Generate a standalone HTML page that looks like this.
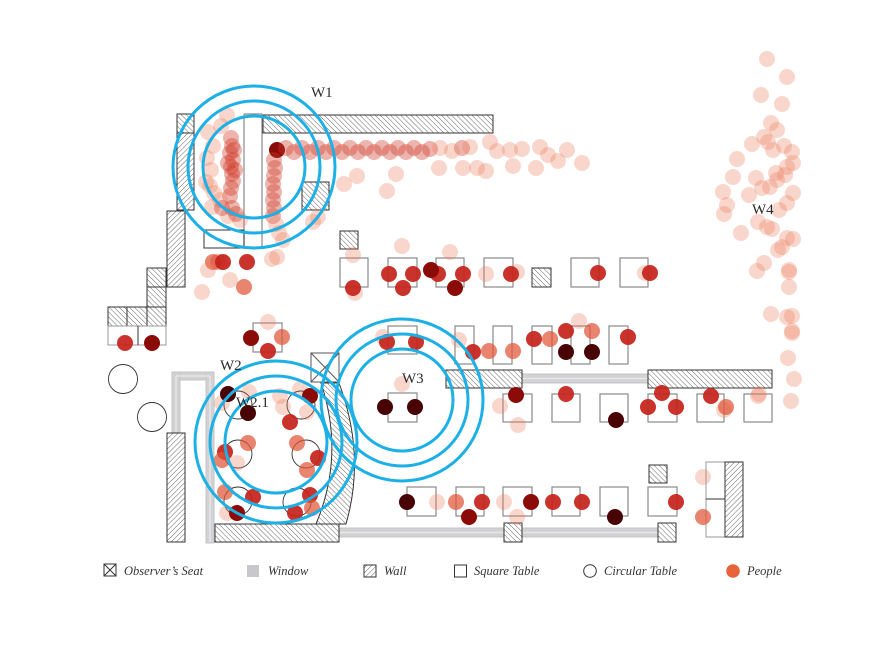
<!DOCTYPE html>
<html><head><meta charset="utf-8"><style>
html,body{margin:0;padding:0;background:#fff;}
svg{display:block;}
.t{fill:none;stroke:#8a8a8a;stroke-width:1.2}
.w1{fill:url(#hb);stroke:#333;stroke-width:1}
.w2{fill:url(#hf);stroke:#333;stroke-width:1}
.win{fill:#d2d2d4;stroke:#c4c4c6;stroke-width:1}
.p1{fill:#ec7656;fill-opacity:.3}
.p2{fill:#e15438;fill-opacity:.72}
.p3{fill:#c4221a;fill-opacity:.92}
.p4{fill:#8a0b08}
.p5{fill:#480404}
.pa{fill:#d03a28;fill-opacity:.38}
.b{fill:none;stroke:#1cb0e6;stroke-width:3}
.lab{font-family:"Liberation Serif",serif;font-size:15px;fill:#2a2a2a}
.leg{font-family:"Liberation Serif",serif;font-style:italic;font-size:12.5px;fill:#333}
</style></head><body>
<svg width="880" height="660" viewBox="0 0 880 660" xmlns="http://www.w3.org/2000/svg">
<defs>
<pattern id="hb" patternUnits="userSpaceOnUse" width="3.6" height="3.6" patternTransform="rotate(-45)"><rect width="3.6" height="3.6" fill="#fff"/><line x1="0" y1="0" x2="0" y2="3.6" stroke="#444" stroke-width="0.8"/></pattern>
<pattern id="hf" patternUnits="userSpaceOnUse" width="3.6" height="3.6" patternTransform="rotate(45)"><rect width="3.6" height="3.6" fill="#fff"/><line x1="0" y1="0" x2="0" y2="3.6" stroke="#444" stroke-width="0.8"/></pattern>
</defs>

<!-- windows -->
<rect class="win" x="172" y="372" width="42" height="8"/>
<rect class="win" x="172" y="372" width="8" height="62"/>
<rect class="win" x="206" y="372" width="8" height="171"/>
<rect class="win" x="339" y="528" width="320" height="9"/>
<rect class="win" x="522" y="374" width="126" height="9"/>
<line x1="176" y1="376" x2="210" y2="376" stroke="#e6e6e6" stroke-width="1.5"/>
<line x1="176" y1="376" x2="176" y2="432" stroke="#e6e6e6" stroke-width="1.5"/>
<line x1="210" y1="376" x2="210" y2="542" stroke="#e6e6e6" stroke-width="1.5"/>
<line x1="339" y1="532.5" x2="659" y2="532.5" stroke="#e6e6e6" stroke-width="1.5"/>
<line x1="522" y1="378.5" x2="648" y2="378.5" stroke="#e6e6e6" stroke-width="1.5"/>

<!-- W1 structure -->
<line x1="244" y1="114" x2="244" y2="247" stroke="#888" stroke-width="1.2"/>
<line x1="262" y1="114" x2="262" y2="247" stroke="#888" stroke-width="1.2"/>
<line x1="244" y1="114" x2="262" y2="114" stroke="#888" stroke-width="1.2"/>
<rect x="204" y="230" width="40" height="18" fill="none" stroke="#333" stroke-width="1"/>
<rect class="w1" x="177" y="114" width="17" height="19"/>
<rect class="w2" x="177" y="133" width="17" height="77"/>
<rect class="w2" x="167" y="211" width="18" height="76"/>
<rect class="w1" x="263" y="115" width="230" height="18"/>
<rect class="w1" x="302" y="182" width="27" height="28"/>
<rect class="w1" x="340" y="231" width="18" height="18"/>

<!-- left column -->
<rect class="w1" x="147" y="268" width="19" height="19"/>
<rect class="w1" x="147" y="287" width="19" height="20"/>
<rect class="w1" x="108" y="307" width="19" height="19"/>
<rect class="w1" x="127" y="307" width="20" height="19"/>
<rect class="w1" x="147" y="307" width="19" height="19"/>
<rect x="108" y="326" width="58" height="19" fill="none" stroke="#999" stroke-width="1"/>
<line x1="138" y1="326" x2="138" y2="345" stroke="#333" stroke-width="1"/>
<circle cx="123" cy="379" r="14.5" fill="none" stroke="#333" stroke-width="0.9"/>
<circle cx="152" cy="417" r="14.5" fill="none" stroke="#333" stroke-width="0.9"/>
<rect class="w2" x="167" y="433" width="18" height="109"/>
<rect class="w1" x="215" y="524" width="124" height="18"/>

<!-- observer seat + curved wall -->
<rect x="311" y="353" width="28" height="29" fill="#fff" stroke="#555" stroke-width="1"/>
<line x1="311" y1="353" x2="339" y2="382" stroke="#555" stroke-width="1"/>
<line x1="339" y1="353" x2="311" y2="382" stroke="#555" stroke-width="1"/>
<path class="w1" d="M321,383 Q345,455 316,524 L346,524 Q366,455 339,383 Z"/>

<!-- circular tables W2 -->
<g fill="none" stroke="#333" stroke-width="0.9">
<circle cx="238" cy="405" r="14"/><circle cx="301" cy="405" r="14"/>
<circle cx="238" cy="454" r="14"/><circle cx="306" cy="454" r="14"/>
<circle cx="238" cy="501" r="14"/><circle cx="297" cy="502" r="14"/>
</g>

<!-- square tables -->
<rect class="t" x="340" y="258" width="28" height="29"/>
<rect class="t" x="388" y="258" width="29" height="29"/>
<rect class="t" x="436" y="258" width="28" height="29"/>
<rect class="t" x="484" y="258" width="29" height="29"/>
<rect class="w1" x="532" y="268" width="19" height="19"/>
<rect class="t" x="571" y="258" width="28" height="29"/>
<rect class="t" x="620" y="258" width="28" height="29"/>
<rect class="t" x="253" y="323" width="29" height="29"/>
<rect class="t" x="388" y="326" width="29" height="28"/>
<rect class="t" x="455" y="326" width="19" height="38"/>
<rect class="t" x="493" y="326" width="19" height="38"/>
<rect class="t" x="532" y="326" width="20" height="38"/>
<rect class="t" x="571" y="326" width="19" height="38"/>
<rect class="t" x="609" y="326" width="19" height="38"/>
<rect class="w1" x="446" y="370" width="76" height="18"/>
<rect class="w1" x="648" y="370" width="124" height="18"/>
<rect class="t" x="388" y="393" width="29" height="29"/>
<rect class="t" x="503" y="394" width="29" height="28"/>
<rect class="t" x="552" y="394" width="28" height="28"/>
<rect class="t" x="600" y="394" width="28" height="28"/>
<rect class="t" x="648" y="394" width="29" height="28"/>
<rect class="t" x="697" y="394" width="27" height="28"/>
<rect class="t" x="744" y="394" width="28" height="28"/>
<rect class="t" x="407" y="487" width="29" height="29"/>
<rect class="t" x="456" y="487" width="28" height="29"/>
<rect class="t" x="503" y="487" width="29" height="29"/>
<rect class="t" x="552" y="487" width="28" height="29"/>
<rect class="t" x="600" y="487" width="28" height="29"/>
<rect class="t" x="648" y="487" width="29" height="29"/>
<rect class="w1" x="649" y="465" width="18" height="18"/>
<rect class="w1" x="504" y="523" width="18" height="19"/>
<rect class="w1" x="658" y="523" width="18" height="19"/>
<rect x="706" y="462" width="19" height="75" fill="none" stroke="#999" stroke-width="1"/>
<line x1="706" y1="499" x2="725" y2="499" stroke="#333" stroke-width="1"/>
<rect class="w2" x="725" y="462" width="18" height="75"/>

<!-- people -->
<g>
<!-- W1 column -->
<circle class="pa" cx="231" cy="138" r="8"/><circle class="pa" cx="232" cy="146" r="8"/><circle class="pa" cx="230" cy="153" r="8"/>
<circle class="pa" cx="233" cy="160" r="8"/><circle class="pa" cx="231" cy="167" r="8"/><circle class="pa" cx="232" cy="174" r="8"/>
<circle class="pa" cx="233" cy="181" r="8"/><circle class="pa" cx="231" cy="188" r="8"/><circle class="pa" cx="230" cy="196" r="8"/>
<circle class="pa" cx="234" cy="150" r="8"/><circle class="pa" cx="228" cy="163" r="8"/><circle class="pa" cx="235" cy="170" r="8"/>
<circle class="p1" cx="208" cy="132" r="8"/><circle class="p1" cx="213" cy="146" r="8"/><circle class="p1" cx="207" cy="158" r="8"/>
<circle class="p1" cx="211" cy="170" r="8"/><circle class="p1" cx="206" cy="182" r="8"/><circle class="p1" cx="214" cy="193" r="8"/>
<circle class="p1" cx="220" cy="200" r="8"/><circle class="p1" cx="212" cy="207" r="8"/><circle class="p1" cx="228" cy="216" r="8"/>
<circle class="p1" cx="240" cy="220" r="8"/><circle class="p1" cx="221" cy="126" r="8"/><circle class="p1" cx="227" cy="115" r="8"/>
<circle class="p1" cx="210" cy="186" r="8"/>
<circle class="pa" cx="222" cy="208" r="8"/><circle class="pa" cx="232" cy="208" r="8"/><circle class="pa" cx="236" cy="214" r="8"/>
<!-- W1 row -->
<circle class="p4" cx="277" cy="150" r="8"/>
<circle class="pa" cx="286" cy="148" r="8"/><circle class="pa" cx="294" cy="152" r="8"/><circle class="pa" cx="302" cy="148" r="8"/>
<circle class="pa" cx="310" cy="152" r="8"/><circle class="pa" cx="318" cy="148" r="8"/><circle class="pa" cx="326" cy="152" r="8"/>
<circle class="pa" cx="334" cy="148" r="8"/><circle class="pa" cx="342" cy="152" r="8"/><circle class="pa" cx="350" cy="148" r="8"/>
<circle class="pa" cx="358" cy="152" r="8"/><circle class="pa" cx="366" cy="148" r="8"/><circle class="pa" cx="374" cy="152" r="8"/>
<circle class="pa" cx="382" cy="148" r="8"/><circle class="pa" cx="390" cy="152" r="8"/><circle class="pa" cx="398" cy="148" r="8"/>
<circle class="pa" cx="406" cy="152" r="8"/><circle class="pa" cx="414" cy="148" r="8"/><circle class="pa" cx="422" cy="152" r="8"/>
<circle class="pa" cx="430" cy="149" r="8"/><circle class="pa" cx="462" cy="148" r="8"/>
<circle class="p1" cx="440" cy="148" r="8"/><circle class="p1" cx="452" cy="151" r="8"/><circle class="p1" cx="470" cy="147" r="8"/>
<circle class="p1" cx="490" cy="142" r="8"/><circle class="p1" cx="497" cy="151" r="8"/><circle class="p1" cx="510" cy="150" r="8"/>
<circle class="p1" cx="522" cy="149" r="8"/><circle class="p1" cx="540" cy="147" r="8"/><circle class="p1" cx="548" cy="155" r="8"/>
<circle class="p1" cx="558" cy="161" r="8"/><circle class="p1" cx="567" cy="150" r="8"/><circle class="p1" cx="582" cy="163" r="8"/>
<circle class="p1" cx="439" cy="168" r="8"/><circle class="p1" cx="463" cy="168" r="8"/><circle class="p1" cx="477" cy="168" r="8"/>
<circle class="p1" cx="486" cy="171" r="8"/><circle class="p1" cx="513" cy="166" r="8"/><circle class="p1" cx="536" cy="168" r="8"/>
<circle class="p1" cx="357" cy="176" r="8"/><circle class="p1" cx="344" cy="184" r="8"/><circle class="p1" cx="396" cy="174" r="8"/>
<circle class="p1" cx="387" cy="191" r="8"/>
<!-- column x~275 -->
<circle class="pa" cx="274" cy="160" r="8"/><circle class="pa" cx="275" cy="168" r="8"/><circle class="pa" cx="274" cy="176" r="8"/>
<circle class="pa" cx="273" cy="184" r="8"/><circle class="pa" cx="274" cy="192" r="8"/><circle class="pa" cx="273" cy="200" r="8"/>
<circle class="pa" cx="274" cy="208" r="8"/><circle class="pa" cx="273" cy="216" r="8"/><circle class="p1" cx="276" cy="224" r="8"/>
<circle class="p1" cx="279" cy="233" r="8"/><circle class="p1" cx="283" cy="240" r="8"/><circle class="p1" cx="313" cy="222" r="8"/>
<circle class="p1" cx="318" cy="217" r="8"/><circle class="p1" cx="277" cy="257" r="8"/>
<!-- lower left W1 -->
<circle class="p2" cx="213" cy="262" r="8"/><circle class="pa" cx="218" cy="262" r="8"/><circle class="p3" cx="223" cy="262" r="8"/>
<circle class="p3" cx="247" cy="262" r="8"/><circle class="p1" cx="272" cy="259" r="8"/><circle class="p1" cx="208" cy="270" r="8"/>
<circle class="p1" cx="230" cy="280" r="8"/><circle class="p2" cx="244" cy="287" r="8"/><circle class="p1" cx="202" cy="292" r="8"/>
<!-- middle top -->
<circle class="p1" cx="402" cy="246" r="8"/><circle class="p1" cx="450" cy="252" r="8"/><circle class="p1" cx="353" cy="255" r="8"/>
<circle class="p1" cx="355" cy="293" r="8"/><circle class="p3" cx="353" cy="288" r="8"/>
<circle class="p3" cx="389" cy="274" r="8"/><circle class="p3" cx="413" cy="274" r="8"/><circle class="p3" cx="403" cy="288" r="8"/>
<circle class="p3" cx="438" cy="274" r="8"/><circle class="p4" cx="431" cy="270" r="8"/><circle class="p3" cx="463" cy="274" r="8"/>
<circle class="p4" cx="455" cy="288" r="8"/><circle class="p1" cx="486" cy="274" r="8"/><circle class="p1" cx="517" cy="272" r="8"/>
<circle class="p3" cx="511" cy="274" r="8"/><circle class="p3" cx="598" cy="273" r="8"/><circle class="p1" cx="645" cy="273" r="8"/>
<circle class="p3" cx="650" cy="273" r="8"/>
<!-- table 253 + left rect -->
<circle class="p4" cx="251" cy="338" r="8"/><circle class="p1" cx="268" cy="322" r="8"/><circle class="p2" cx="282" cy="337" r="8"/>
<circle class="p3" cx="268" cy="351" r="8"/><circle class="p3" cx="125" cy="343" r="8"/><circle class="p4" cx="152" cy="343" r="8"/>
<!-- W3 row -->
<circle class="p1" cx="383" cy="337" r="8"/><circle class="p3" cx="387" cy="342" r="8"/><circle class="p3" cx="416" cy="342" r="8"/>
<circle class="p1" cx="459" cy="340" r="8"/><circle class="p3" cx="473" cy="352" r="8"/><circle class="p2" cx="489" cy="351" r="8"/>
<circle class="p2" cx="513" cy="351" r="8"/><circle class="p3" cx="534" cy="339" r="8"/><circle class="p2" cx="550" cy="339" r="8"/>
<circle class="p1" cx="579" cy="321" r="8"/><circle class="p3" cx="566" cy="331" r="8"/><circle class="p2" cx="592" cy="331" r="8"/>
<circle class="p5" cx="566" cy="352" r="8"/><circle class="p5" cx="592" cy="352" r="8"/><circle class="p3" cx="628" cy="337" r="8"/>
<circle class="p5" cx="385" cy="407" r="8"/><circle class="p5" cx="415" cy="407" r="8"/><circle class="p1" cx="402" cy="384" r="8"/>
<circle class="p4" cx="516" cy="395" r="8"/><circle class="p1" cx="500" cy="406" r="8"/><circle class="p1" cx="518" cy="425" r="8"/>
<circle class="p3" cx="566" cy="394" r="8"/><circle class="p5" cx="616" cy="420" r="8"/><circle class="p3" cx="662" cy="393" r="8"/>
<circle class="p3" cx="648" cy="407" r="8"/><circle class="p3" cx="676" cy="407" r="8"/><circle class="p3" cx="711" cy="396" r="8"/>
<circle class="p1" cx="724" cy="410" r="8"/><circle class="p2" cx="726" cy="407" r="8"/><circle class="p1" cx="758" cy="396" r="8"/><circle class="p1" cx="759" cy="394" r="8"/>
<!-- bottom row -->
<circle class="p5" cx="407" cy="502" r="8"/><circle class="p1" cx="437" cy="502" r="8"/><circle class="p2" cx="456" cy="502" r="8"/>
<circle class="p3" cx="482" cy="502" r="8"/><circle class="p4" cx="469" cy="517" r="8"/><circle class="p1" cx="504" cy="502" r="8"/>
<circle class="p4" cx="531" cy="502" r="8"/><circle class="p1" cx="517" cy="517" r="8"/><circle class="p3" cx="553" cy="502" r="8"/>
<circle class="p3" cx="582" cy="502" r="8"/><circle class="p5" cx="615" cy="517" r="8"/><circle class="p3" cx="676" cy="502" r="8"/>
<circle class="p1" cx="703" cy="477" r="8"/><circle class="p2" cx="703" cy="517" r="8"/>
<!-- W2 -->
<circle class="p1" cx="222" cy="403" r="8"/><circle class="p5" cx="228" cy="394" r="8"/><circle class="p1" cx="249" cy="392" r="8"/>
<circle class="p5" cx="248" cy="413" r="8"/><circle class="p1" cx="280" cy="396" r="8"/><circle class="p1" cx="283" cy="407" r="8"/>
<circle class="p3" cx="290" cy="422" r="8"/><circle class="p1" cx="300" cy="389" r="8"/><circle class="p4" cx="310" cy="396" r="8"/>
<circle class="p1" cx="307" cy="412" r="8"/><circle class="p2" cx="248" cy="443" r="8"/><circle class="p3" cx="225" cy="452" r="8"/>
<circle class="p2" cx="222" cy="460" r="8"/><circle class="p1" cx="237" cy="463" r="8"/><circle class="p2" cx="297" cy="443" r="8"/>
<circle class="p3" cx="318" cy="458" r="8"/><circle class="p2" cx="307" cy="470" r="8"/><circle class="p2" cx="225" cy="492" r="8"/>
<circle class="p3" cx="253" cy="497" r="8"/><circle class="p1" cx="227" cy="513" r="8"/><circle class="p4" cx="237" cy="513" r="8"/>
<circle class="p3" cx="310" cy="495" r="8"/><circle class="p3" cx="295" cy="513" r="8"/><circle class="p2" cx="312" cy="508" r="8"/>
<!-- W4 -->
<circle class="p1" cx="767" cy="59" r="8"/><circle class="p1" cx="787" cy="77" r="8"/><circle class="p1" cx="761" cy="95" r="8"/>
<circle class="p1" cx="782" cy="104" r="8"/><circle class="p1" cx="771" cy="123" r="8"/><circle class="p1" cx="777" cy="130" r="8"/>
<circle class="p1" cx="764" cy="137" r="8"/><circle class="p1" cx="752" cy="144" r="8"/><circle class="p1" cx="768" cy="142" r="8"/>
<circle class="p1" cx="773" cy="150" r="8"/><circle class="p1" cx="784" cy="146" r="8"/><circle class="p1" cx="792" cy="152" r="8"/>
<circle class="p1" cx="737" cy="159" r="8"/><circle class="p1" cx="793" cy="163" r="8"/><circle class="p1" cx="787" cy="167" r="8"/>
<circle class="p1" cx="733" cy="177" r="8"/><circle class="p1" cx="756" cy="178" r="8"/><circle class="p1" cx="776" cy="173" r="8"/>
<circle class="p1" cx="777" cy="180" r="8"/><circle class="p1" cx="785" cy="175" r="8"/><circle class="p1" cx="723" cy="192" r="8"/>
<circle class="p1" cx="749" cy="195" r="8"/><circle class="p1" cx="762" cy="188" r="8"/><circle class="p1" cx="770" cy="187" r="8"/>
<circle class="p1" cx="793" cy="193" r="8"/><circle class="p1" cx="727" cy="205" r="8"/><circle class="p1" cx="787" cy="203" r="8"/>
<circle class="p1" cx="724" cy="214" r="8"/><circle class="p1" cx="779" cy="210" r="8"/><circle class="p1" cx="758" cy="222" r="8"/>
<circle class="p1" cx="767" cy="227" r="8"/><circle class="p1" cx="772" cy="229" r="8"/><circle class="p1" cx="741" cy="233" r="8"/>
<circle class="p1" cx="787" cy="238" r="8"/><circle class="p1" cx="793" cy="239" r="8"/><circle class="p1" cx="782" cy="247" r="8"/>
<circle class="p1" cx="778" cy="250" r="8"/><circle class="p1" cx="764" cy="263" r="8"/><circle class="p1" cx="757" cy="271" r="8"/>
<circle class="p1" cx="789" cy="270" r="8"/><circle class="p1" cx="789" cy="272" r="8"/><circle class="p1" cx="789" cy="287" r="8"/>
<circle class="p1" cx="771" cy="314" r="8"/><circle class="p1" cx="787" cy="317" r="8"/><circle class="p1" cx="792" cy="316" r="8"/>
<circle class="p1" cx="792" cy="333" r="8"/><circle class="p1" cx="792" cy="331" r="8"/><circle class="p1" cx="788" cy="358" r="8"/>
<circle class="p1" cx="794" cy="379" r="8"/><circle class="p1" cx="791" cy="401" r="8"/>
</g>

<!-- blue rings -->
<g class="b">
<circle cx="254" cy="167" r="51"/><circle cx="254" cy="167" r="66"/><circle cx="254" cy="167" r="81"/>
<circle cx="276" cy="442" r="51"/><circle cx="276" cy="442" r="66"/><circle cx="276" cy="442" r="81"/>
<circle cx="402" cy="400" r="51"/><circle cx="402" cy="400" r="66"/><circle cx="402" cy="400" r="81"/>
</g>

<!-- labels -->
<text class="lab" x="311" y="97">W1</text>
<text class="lab" x="220" y="370">W2</text>
<text class="lab" x="236" y="407">W2.1</text>
<text class="lab" x="402" y="383">W3</text>
<text class="lab" x="752" y="214">W4</text>

<!-- legend -->
<rect x="104" y="564" width="12" height="12" fill="#fff" stroke="#333" stroke-width="1"/>
<line x1="104" y1="564" x2="116" y2="576" stroke="#333" stroke-width="1"/>
<line x1="116" y1="564" x2="104" y2="576" stroke="#333" stroke-width="1"/>
<text class="leg" x="124" y="575">Observer’s Seat</text>
<rect x="247" y="565" width="12" height="12" fill="#c8c8cc"/>
<text class="leg" x="268" y="575">Window</text>
<rect class="w2" x="364" y="565" width="12" height="12"/>
<text class="leg" x="384" y="575">Wall</text>
<rect x="454.5" y="565" width="12" height="12" fill="none" stroke="#333" stroke-width="1"/>
<text class="leg" x="474" y="575">Square Table</text>
<circle cx="590" cy="571" r="6.3" fill="none" stroke="#333" stroke-width="1"/>
<text class="leg" x="604" y="575">Circular Table</text>
<circle cx="733" cy="571" r="6.8" fill="#e8623a"/>
<text class="leg" x="747" y="575">People</text>
</svg>
</body></html>
